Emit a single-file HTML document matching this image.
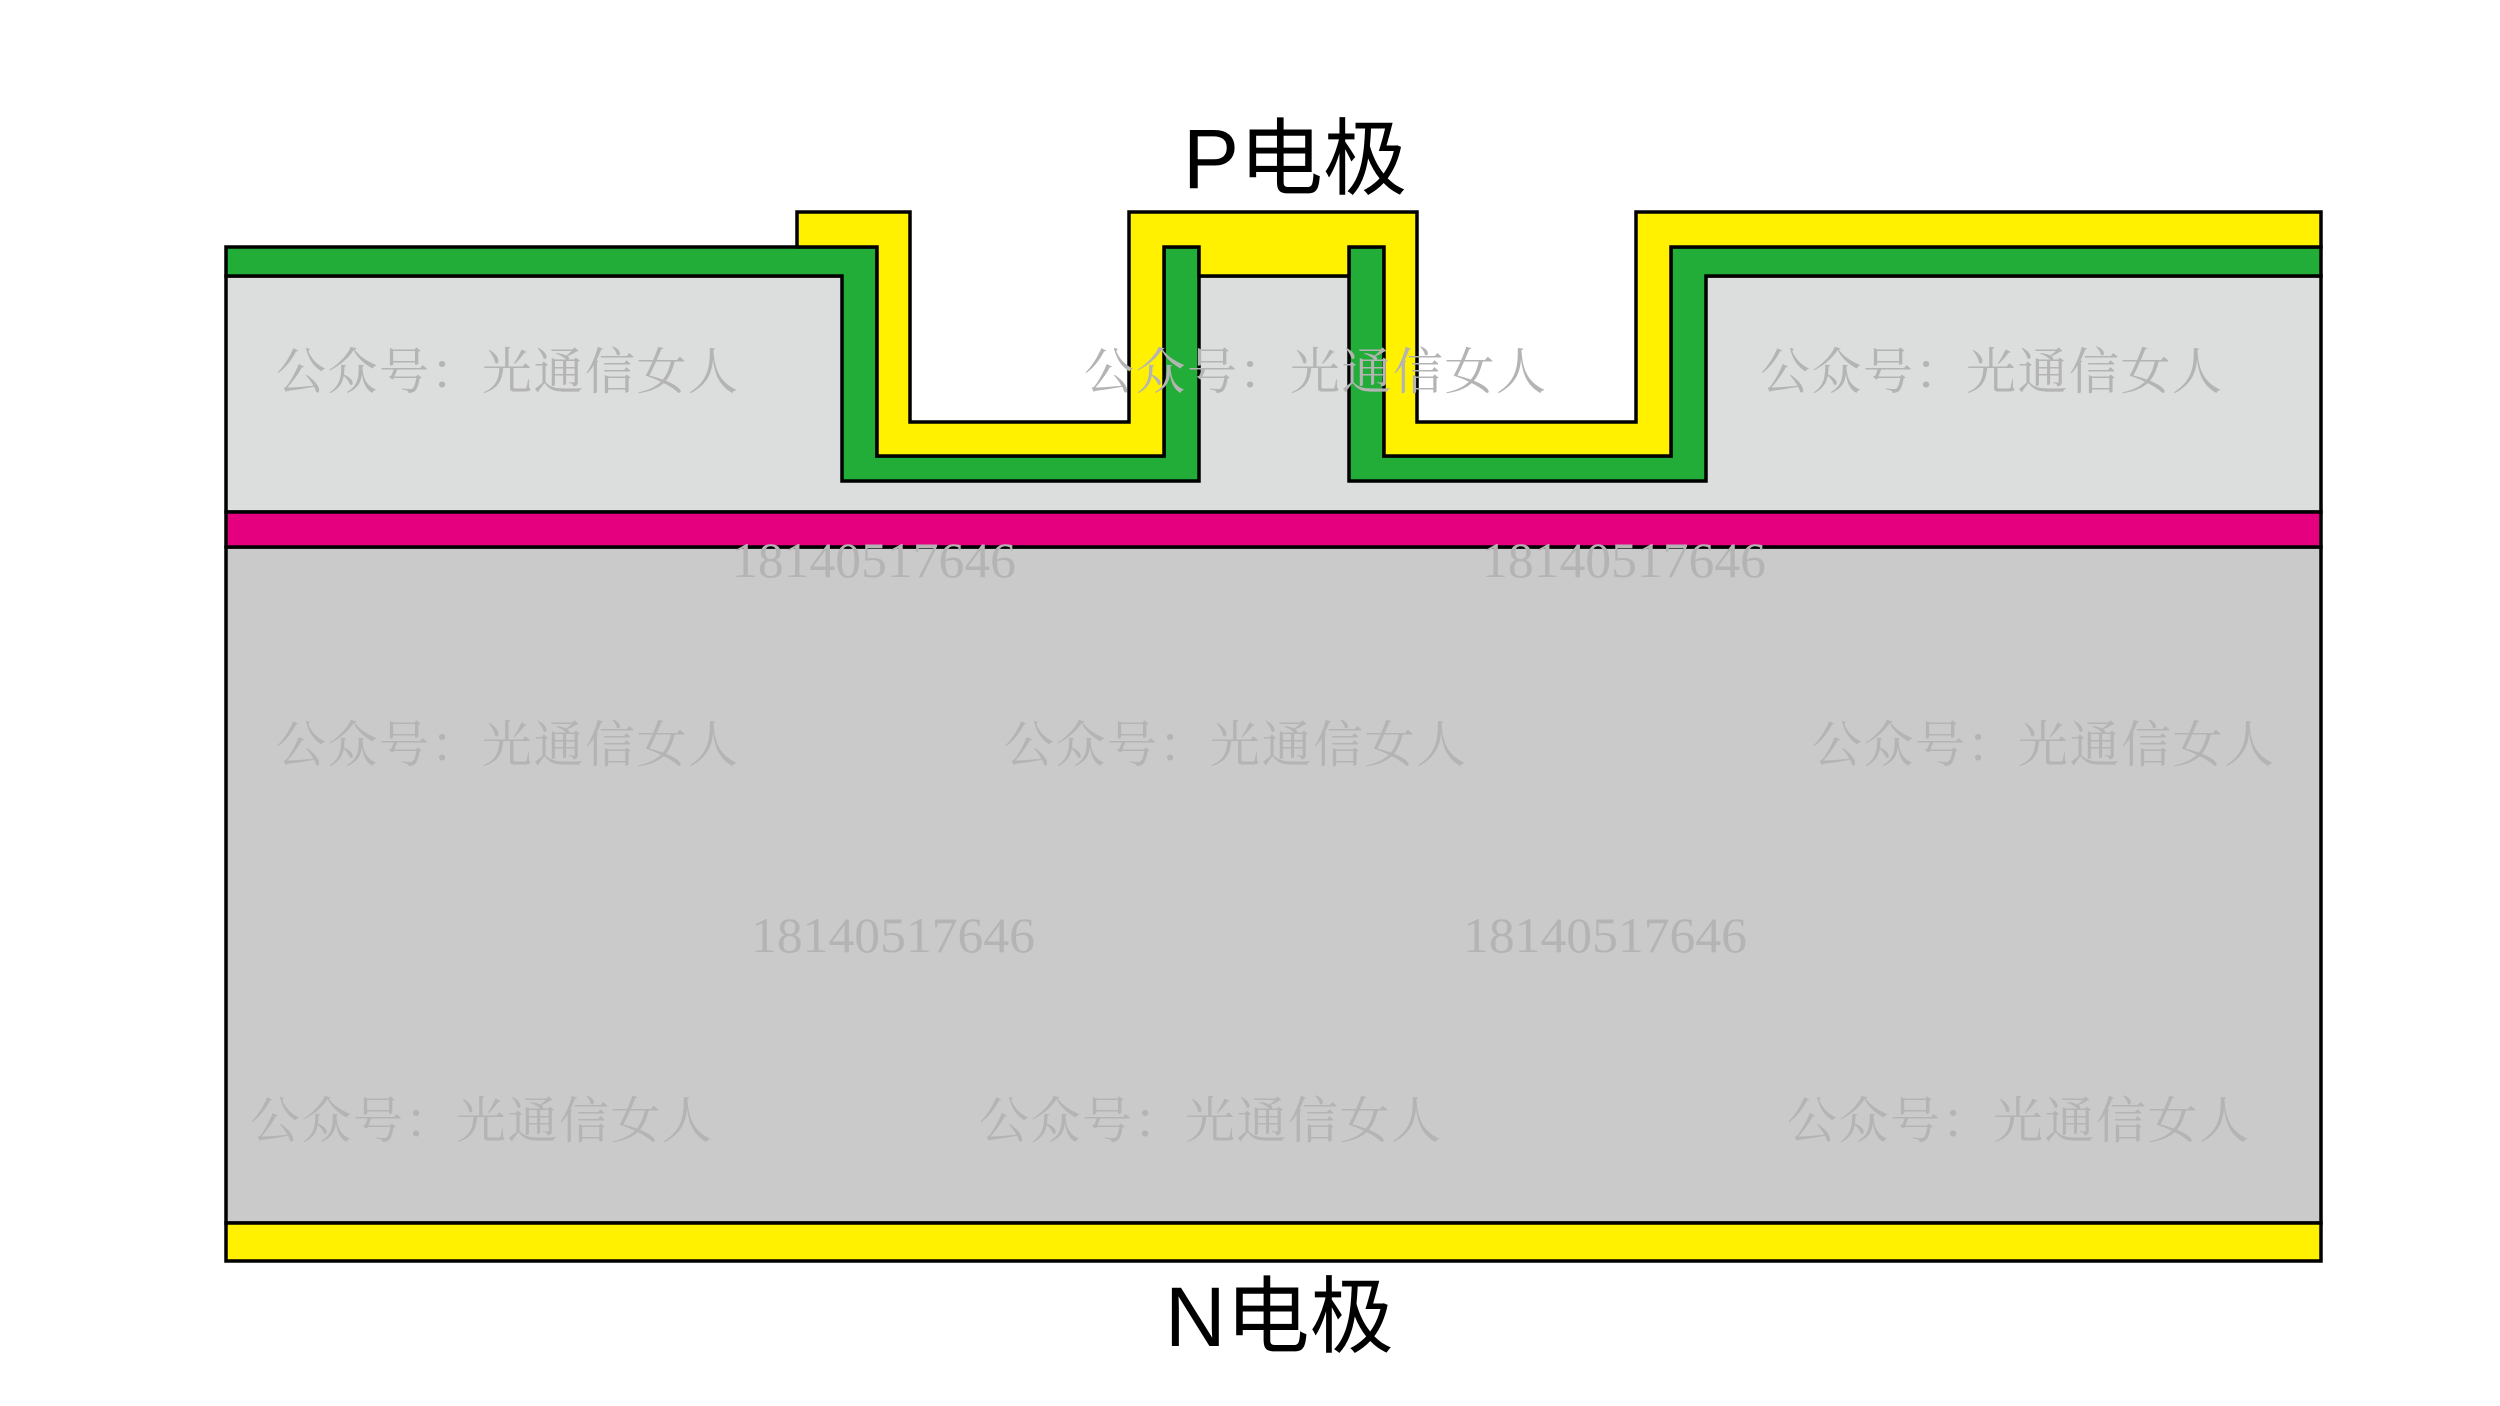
<!DOCTYPE html>
<html><head><meta charset="utf-8"><style>
html,body{margin:0;padding:0;background:#fff;}
svg{display:block;}
.wm{font-family:"Liberation Serif","Noto Serif CJK SC",serif;fill:#b4b4b4;font-size:50px;}
.num{font-family:"Liberation Serif",serif;fill:#b4b4b4;font-size:50px;}
.lab{font-family:"Liberation Sans","Noto Sans CJK SC",sans-serif;fill:#000;font-size:84px;}
</style></head><body>
<svg width="2500" height="1406" viewBox="0 0 2500 1406" xmlns="http://www.w3.org/2000/svg">
<g stroke="#000" stroke-width="3.5" stroke-linejoin="miter">
<rect x="226" y="276" width="2095" height="236" fill="#dcdddd"/>
<rect x="226" y="547" width="2095" height="676" fill="#c9cac9"/>
<rect x="226" y="512" width="2095" height="35" fill="#e4007f"/>
<rect x="226" y="1223" width="2095" height="38" fill="#fff100"/>
</g>
<rect x="880" y="260" width="281" height="162" fill="#fff"/>
<rect x="1387" y="260" width="281" height="162" fill="#fff"/>
<g stroke="#000" stroke-width="3.5" stroke-linejoin="miter">
<polygon fill="#22ac38" points="226,247 877,247 877,456 1164,456 1164,247 1199,247 1199,481 842,481 842,276 226,276"/>
<polygon fill="#22ac38" points="1349,247 1384,247 1384,456 1671,456 1671,247 2321,247 2321,276 1706,276 1706,481 1349,481"/>
<polygon fill="#fff100" points="797,212 910,212 910,422 1129,422 1129,212 1417,212 1417,422 1636,422 1636,212 2321,212 2321,247 1671,247 1671,456 1384,456 1384,247 1349,247 1349,276 1199,276 1199,247 1164,247 1164,456 877,456 877,247 797,247"/>
</g>
<text class="wm" x="276" y="389" textLength="462">公众号：光通信女人</text>
<text class="wm" x="1084" y="389" textLength="462">公众号：光通信女人</text>
<text class="wm" x="1760" y="389" textLength="462">公众号：光通信女人</text>
<text class="wm" x="276" y="762" textLength="462">公众号：光通信女人</text>
<text class="wm" x="1004" y="762" textLength="462">公众号：光通信女人</text>
<text class="wm" x="1812" y="762" textLength="462">公众号：光通信女人</text>
<text class="wm" x="250" y="1138" textLength="462">公众号：光通信女人</text>
<text class="wm" x="979" y="1138" textLength="462">公众号：光通信女人</text>
<text class="wm" x="1787" y="1138" textLength="462">公众号：光通信女人</text>
<text class="num" x="732" y="577" textLength="284" lengthAdjust="spacingAndGlyphs">18140517646</text>
<text class="num" x="1482" y="577" textLength="284" lengthAdjust="spacingAndGlyphs">18140517646</text>
<text class="num" x="751" y="952" textLength="284" lengthAdjust="spacingAndGlyphs">18140517646</text>
<text class="num" x="1463" y="952" textLength="284" lengthAdjust="spacingAndGlyphs">18140517646</text>
<text class="lab" x="1183" y="188">P电极</text>
<text class="lab" x="1165" y="1346">N电极</text>
</svg>
</body></html>
